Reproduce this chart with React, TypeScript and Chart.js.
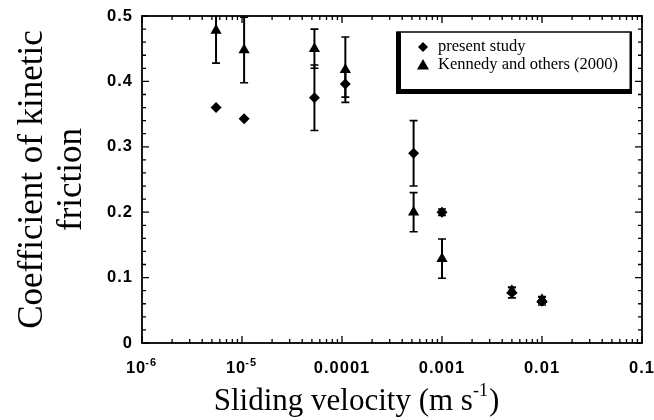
import React, { useEffect, useRef } from "react";
import { Chart, registerables } from "chart.js";

Chart.register(...registerables);

// ---- data ----
const presentX = [5.5e-6, 1.05e-5, 5.3e-5, 1.08e-4, 5.2e-4, 1.0e-3, 5.0e-3, 1.0e-2];
const presentY = [0.36, 0.343, 0.375, 0.396, 0.29, 0.2, 0.077, 0.064];
const presentErr = [0, 0, 0.05, 0.02, 0.05, 0.005, 0.008, 0.006];

const kennedyX = [5.5e-6, 1.05e-5, 5.3e-5, 1.08e-4, 5.2e-4, 1.0e-3, 5.0e-3, 1.0e-2];
const kennedyY = [0.478, 0.448, 0.45, 0.418, 0.2, 0.129, 0.08, 0.066];
const kennedyErr = [0.05, 0.05, 0.03, 0.05, 0.03, 0.03, 0.005, 0.005];

const xDecades = [-6, -5, -4, -3, -2, -1];
const xTickBase = ["10", "10", "0.0001", "0.001", "0.01", "0.1"];
const xTickSup = ["-6", "-5", "", "", "", ""];
const yTicks = [0, 0.1, 0.2, 0.3, 0.4, 0.5];
const yTickLabels = ["0", "0.1", "0.2", "0.3", "0.4", "0.5"];
const yMinorStep = 0.02;

const legendLabels = ["present study", "Kennedy and others (2000)"];
const xTitle = "Sliding velocity (m s";
const xTitleSup = "-1";
const yTitle = ["Coefficient of kinetic", "friction"];

const TICK_FONT = "bold 16.5px 'Liberation Sans', Arial, sans-serif";
const SUP_FONT = "bold 11px 'Liberation Sans', Arial, sans-serif";
const SERIF = "'Liberation Serif', 'Times New Roman', serif";

const decorPlugin = {
  id: "decor",
  afterDatasetsDraw(chart: any) {
    const { ctx, chartArea: a, scales } = chart;
    const xs = scales.x;
    const ys = scales.y;
    ctx.save();

    // error bars
    ctx.save();
    ctx.beginPath();
    ctx.rect(a.left, a.top, a.right - a.left, a.bottom - a.top);
    ctx.clip();
    ctx.strokeStyle = "#000";
    const drawErr = (xArr: number[], yArr: number[], eArr: number[]) => {
      for (let i = 0; i < xArr.length; i++) {
        if (!eArr[i]) continue;
        const px = xs.getPixelForValue(xArr[i]);
        const pTop = ys.getPixelForValue(yArr[i] + eArr[i]);
        const pBot = ys.getPixelForValue(yArr[i] - eArr[i]);
        ctx.lineWidth = 2;
        ctx.beginPath();
        ctx.moveTo(px, pTop);
        ctx.lineTo(px, pBot);
        ctx.stroke();
        ctx.lineWidth = 1.6;
        ctx.beginPath();
        ctx.moveTo(px - 4, pTop);
        ctx.lineTo(px + 4, pTop);
        ctx.moveTo(px - 4, pBot);
        ctx.lineTo(px + 4, pBot);
        ctx.stroke();
      }
    };
    drawErr(presentX, presentY, presentErr);
    drawErr(kennedyX, kennedyY, kennedyErr);
    ctx.restore();

    // frame
    ctx.strokeStyle = "#000";
    ctx.lineWidth = 1.8;
    ctx.strokeRect(a.left, a.top, a.right - a.left, a.bottom - a.top);

    // x ticks (log, inward, top and bottom)
    ctx.lineWidth = 1.3;
    ctx.beginPath();
    for (const d of xDecades) {
      for (let m = 1; m <= 9; m++) {
        const v = m * Math.pow(10, d);
        if (v > 0.1 * 1.0001) continue;
        const px = xs.getPixelForValue(v);
        const len = m === 1 ? 7 : 4;
        ctx.moveTo(px, a.bottom);
        ctx.lineTo(px, a.bottom - len);
        ctx.moveTo(px, a.top);
        ctx.lineTo(px, a.top + len);
      }
    }
    // y ticks (inward, left and right)
    const nMinor = Math.round(0.5 / yMinorStep);
    for (let k = 0; k <= nMinor; k++) {
      const v = k * yMinorStep;
      const py = ys.getPixelForValue(v);
      const major = k % 5 === 0;
      const len = major ? 7 : 4;
      ctx.moveTo(a.left, py);
      ctx.lineTo(a.left + len, py);
      ctx.moveTo(a.right, py);
      ctx.lineTo(a.right - len, py);
    }
    ctx.stroke();

    // tick labels
    ctx.fillStyle = "#000";
    (ctx as any).letterSpacing = "1px";
    ctx.font = TICK_FONT;
    ctx.textBaseline = "middle";
    ctx.textAlign = "right";
    yTicks.forEach((v, i) => {
      ctx.fillText(yTickLabels[i], a.left - 9, ys.getPixelForValue(v));
    });
    ctx.textBaseline = "alphabetic";
    ctx.textAlign = "left";
    xDecades.forEach((d, i) => {
      const px = xs.getPixelForValue(Math.pow(10, d));
      ctx.font = TICK_FONT;
      const wb = ctx.measureText(xTickBase[i]).width;
      ctx.font = SUP_FONT;
      const ws = xTickSup[i] ? ctx.measureText(xTickSup[i]).width : 0;
      const x0 = px - (wb + ws) / 2;
      ctx.font = TICK_FONT;
      ctx.fillText(xTickBase[i], x0, a.bottom + 30);
      if (xTickSup[i]) {
        ctx.font = SUP_FONT;
        ctx.fillText(xTickSup[i], x0 + wb - 1, a.bottom + 23);
      }
    });
    (ctx as any).letterSpacing = "0px";

    // x title
    ctx.font = `31px ${SERIF}`;
    const w1 = ctx.measureText(xTitle).width;
    ctx.font = `18px ${SERIF}`;
    const w2 = ctx.measureText(xTitleSup).width;
    ctx.font = `31px ${SERIF}`;
    const w3 = ctx.measureText(")").width;
    const cx = 356;
    const tx = cx - (w1 + w2 + w3) / 2;
    ctx.textAlign = "left";
    ctx.fillText(xTitle, tx, 410);
    ctx.font = `18px ${SERIF}`;
    ctx.fillText(xTitleSup, tx + w1, 396);
    ctx.font = `31px ${SERIF}`;
    ctx.fillText(")", tx + w1 + w2 + 1, 410);

    // y title
    ctx.save();
    ctx.translate(0, (a.top + a.bottom) / 2);
    ctx.rotate(-Math.PI / 2);
    ctx.textAlign = "center";
    ctx.font = `35px ${SERIF}`;
    ctx.fillText(yTitle[0], 0, 42);
    ctx.fillText(yTitle[1], 0, 81);
    ctx.restore();

    // legend box
    const L = 397, T = 32, R = 631, B = 93;
    ctx.lineWidth = 1.5;
    ctx.strokeRect(L, T, R - L, B - T);
    ctx.fillRect(L - 1, T, 5, B - T + 1);
    ctx.fillRect(L - 1, B - 4, R - L + 2, 5);
    ctx.fillRect(R - 1.5, T, 2.5, B - T + 1);
    // legend markers
    const mx = 423;
    const row1 = 47, row2 = 65;
    ctx.beginPath();
    ctx.moveTo(mx, row1 - 5);
    ctx.lineTo(mx + 5, row1);
    ctx.lineTo(mx, row1 + 5);
    ctx.lineTo(mx - 5, row1);
    ctx.closePath();
    ctx.fill();
    ctx.beginPath();
    ctx.moveTo(mx, row2 - 6);
    ctx.lineTo(mx + 6, row2 + 4.5);
    ctx.lineTo(mx - 6, row2 + 4.5);
    ctx.closePath();
    ctx.fill();
    ctx.font = `16.5px ${SERIF}`;
    ctx.textBaseline = "middle";
    ctx.textAlign = "left";
    ctx.fillText(legendLabels[0], 438, row1);
    ctx.fillText(legendLabels[1], 438, row2);

    ctx.restore();
  },
};

export default function App() {
  const ref = useRef<HTMLCanvasElement | null>(null);
  useEffect(() => {
    const toPts = (xa: number[], ya: number[]) => xa.map((x, i) => ({ x, y: ya[i] }));
    const chart = new Chart(ref.current as HTMLCanvasElement, {
      type: "scatter",
      data: {
        datasets: [
          {
            label: legendLabels[0],
            data: toPts(presentX, presentY),
            pointStyle: "rectRot",
            pointRadius: 5.5,
            backgroundColor: "#000",
            borderColor: "#000",
            borderWidth: 0,
          },
          {
            label: legendLabels[1],
            data: toPts(kennedyX, kennedyY),
            pointStyle: "triangle",
            pointRadius: 6.5,
            backgroundColor: "#000",
            borderColor: "#000",
            borderWidth: 0,
          },
        ],
      },
      options: {
        animation: false,
        responsive: false,
        layout: { padding: { top: 16, right: 12, left: 0, bottom: 0 } },
        plugins: { legend: { display: false }, tooltip: { enabled: false } },
        scales: {
          x: {
            type: "logarithmic",
            min: 1e-6,
            max: 0.1,
            grid: { display: false },
            border: { display: false },
            ticks: { display: false },
            afterFit: (s: any) => {
              s.height = 77;
            },
          },
          y: {
            min: 0,
            max: 0.5,
            grid: { display: false },
            border: { display: false },
            ticks: { display: false, stepSize: 0.1 },
            afterFit: (s: any) => {
              s.width = 142;
            },
          },
        },
      } as any,
      plugins: [decorPlugin],
    });
    return () => chart.destroy();
  }, []);
  return (
    <div style={{ position: "fixed", left: 0, top: 0, width: 654, height: 420, background: "#fff" }}>
      <canvas ref={ref} width={654} height={420} style={{ width: 654, height: 420 }} />
    </div>
  );
}
